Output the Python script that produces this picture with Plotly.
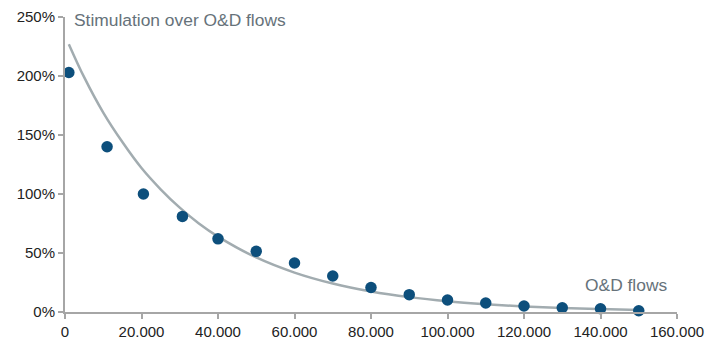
import plotly.graph_objects as go

# O&D flows (x) and stimulation (y, as fraction)
od_flows = [1000, 11000, 20500, 30700, 40000, 50000, 60000, 70000, 80000,
            90000, 100000, 110000, 120000, 130000, 140000, 150000]
stimulation = [2.03, 1.40, 1.00, 0.81, 0.62, 0.514, 0.415, 0.305, 0.208,
               0.147, 0.102, 0.076, 0.051, 0.036, 0.028, 0.011]

# Trend curve
trend_x = [1000, 5000, 10000, 15000, 20000, 25000, 30000, 35000, 40000, 50000,
           60000, 70000, 80000, 90000, 100000, 110000, 120000, 130000, 140000, 150000]
trend_y = [2.27, 1.99, 1.69, 1.44, 1.22, 1.04, 0.884, 0.75, 0.639, 0.462,
           0.334, 0.241, 0.174, 0.126, 0.091, 0.066, 0.047, 0.034, 0.025, 0.018]

x_ticks = [0, 20000, 40000, 60000, 80000, 100000, 120000, 140000, 160000]
y_ticks = [0, 0.5, 1.0, 1.5, 2.0, 2.5]

axis_grey = "#a6a6a6"
text_grey = "#66727a"
font_family = "Liberation Sans, Arial, sans-serif"

fig = go.Figure()
fig.add_trace(go.Scatter(
    x=trend_x, y=trend_y, mode="lines", line=dict(color="#a2acb0", width=2.5, shape="spline"),
    hoverinfo="skip", showlegend=False))
fig.add_trace(go.Scatter(
    x=od_flows, y=stimulation, mode="markers",
    marker=dict(color="#0d4f7c", size=11.5), cliponaxis=False, showlegend=False))

fig.add_annotation(x=1700, y=2.477, xref="x", yref="y", text="Stimulation over O&D flows",
                   showarrow=False, xanchor="left", yanchor="middle",
                   font=dict(size=17.4, color=text_grey, family=font_family))
fig.add_annotation(x=135300, y=0.229, xref="x", yref="y", text="O&D flows",
                   showarrow=False, xanchor="left", yanchor="middle",
                   font=dict(size=17.4, color=text_grey, family=font_family))

fig.update_layout(
    width=707, height=340,
    margin=dict(l=65, r=30, t=17, b=28, autoexpand=False),
    paper_bgcolor="white", plot_bgcolor="white",
    separators=",.",
    font=dict(family=font_family, size=15, color="#222222"),
    xaxis=dict(range=[0, 160000], tickvals=x_ticks, tickformat=",d",
               showline=True, linecolor=axis_grey, linewidth=2,
               ticks="outside", ticklen=5, tickcolor=axis_grey, tickwidth=1.5,
               showgrid=False, zeroline=False, automargin=False),
    yaxis=dict(range=[0, 2.5], tickvals=y_ticks, tickformat=".0%",
               showline=True, linecolor=axis_grey, linewidth=2,
               ticks="outside", ticklen=5, tickcolor=axis_grey, tickwidth=1.5,
               showgrid=False, zeroline=False, automargin=False),
)

fig.write_html("out.html", config={"displayModeBar": False},
               post_script="document.body.style.margin='0';document.body.style.overflow='hidden';")
